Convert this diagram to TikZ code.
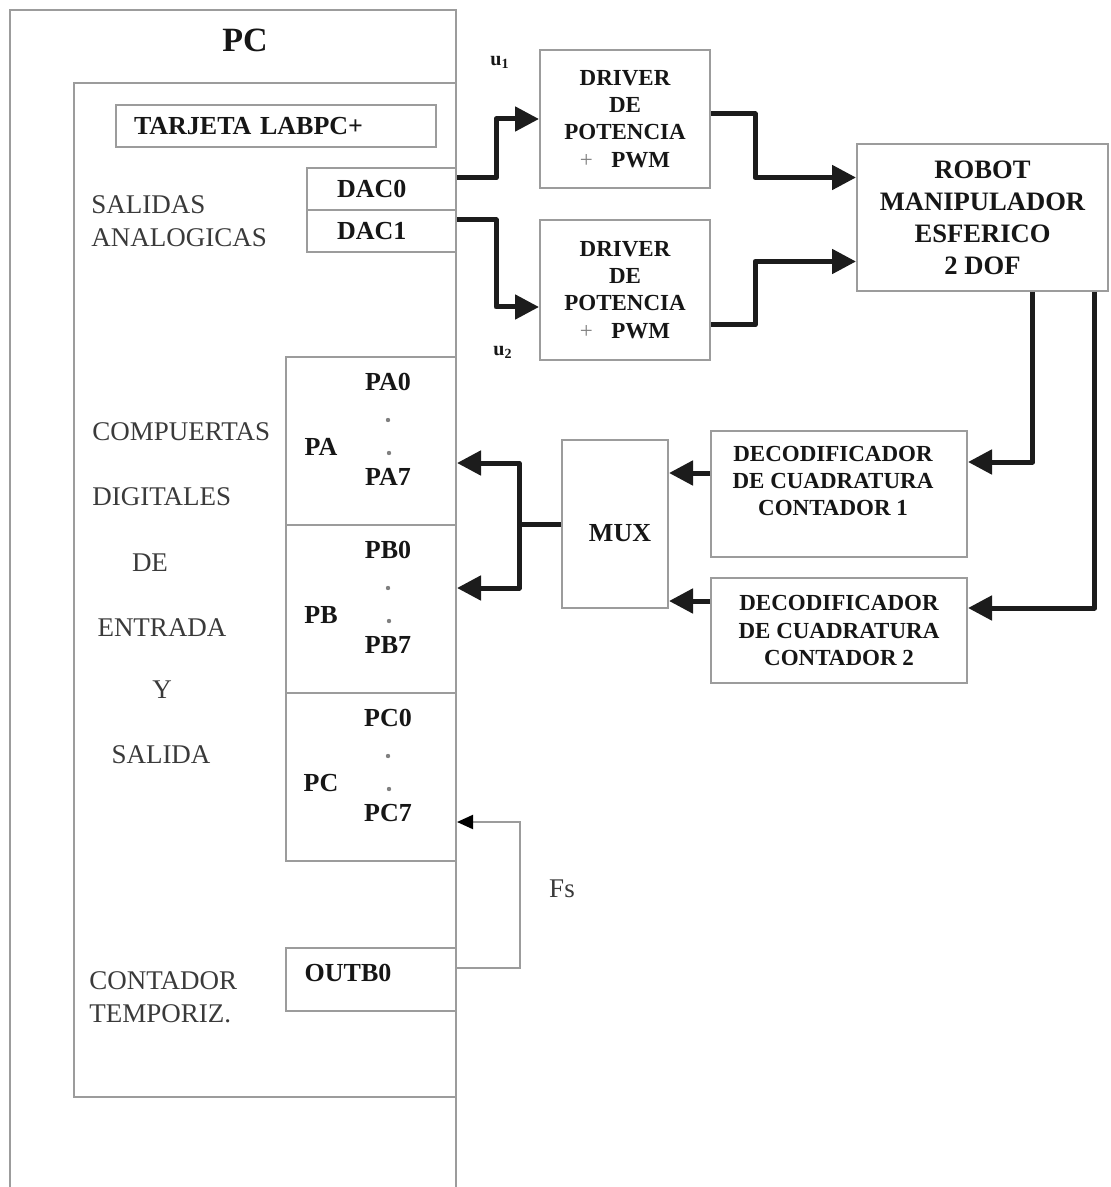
\documentclass[tikz,border=0pt]{standalone}
\usepackage{fontspec}
\setmainfont{Liberation Serif}
\usepackage{tikz}
\usetikzlibrary{arrows.meta,positioning,calc}
\definecolor{framegray}{HTML}{9C9C9C}
\definecolor{inkgray}{HTML}{3A3A3A}
\definecolor{inkdark}{HTML}{161616}
\definecolor{busblack}{HTML}{1C1C1C}
\tikzset{
  box/.style={draw=framegray, line width=1pt, inner sep=0pt, align=center},
  frame/.style={draw=framegray, line width=1pt},
  bus/.style={draw=busblack, line width=2.5pt, line join=round, -{Triangle[length=12pt,width=12pt]}},
  busline/.style={draw=busblack, line width=2.5pt, line join=round},
  fsline/.style={draw=framegray, line width=1pt, -{Triangle[length=8pt,width=7pt,color=black]}},
  lbl/.style={font=\fontsize{13.5}{16.5}\selectfont, text=inkgray, inner sep=0pt, align=left},
  tag/.style={font=\fontsize{13}{16}\selectfont\bfseries, text=inkdark, inner sep=0pt, align=center},
  drvtxt/.style={font=\fontsize{11.5}{13.6}\selectfont\bfseries, text=inkdark, inner sep=0pt, align=center},
  portdot/.style={circle, fill=gray, inner sep=0pt, minimum size=2.2pt},
}

\begin{document}
\begin{tikzpicture}[x=0.5pt,y=-0.5pt]
\useasboundingbox (0,0) rectangle (1110,1187);
% PC and card frames
\draw[frame] (10,1187) -- (10,10) -- (456,10) -- (456,1187);
\draw[frame] (456,83) -- (74,83) -- (74,1097) -- (456,1097);
\node[tag, font=\fontsize{17}{20}\selectfont\bfseries] (pctitle) at (245,40) {PC};
\node[box, tag, minimum width=160pt, minimum height=21pt, text width=142pt, inner xsep=9pt, align=left] (card) at (276,126) {TARJETA LABPC+};

% analog outputs
\node[box, tag, minimum width=74.5pt, minimum height=21pt, text width=44.5pt, inner xsep=15pt, align=left] (dac0) at (381.5,189) {DAC0};
\node[box, tag, minimum width=74.5pt, minimum height=21pt, text width=44.5pt, inner xsep=15pt, align=left] (dac1) at (381.5,231) {DAC1};
\node[lbl, anchor=west] (analog) at (91,221.5) {SALIDAS\\ANALOGICAS};

% digital ports
\foreach \p/\c in {A/441,B/609,C/777}{
  \node[box, minimum width=85pt, minimum height=84pt] (p\p) at (371,\c) {};
  \node[tag] (p\p-name) at (321,{\c+6}) {P\p};
  \node[tag] (p\p-lo) at (388,{\c-59}) {P\p0};
  \node[portdot] (p\p-d1) at (388,{\c-21}) {};
  \node[portdot] (p\p-d2) at (389,{\c+12}) {};
  \node[tag] (p\p-hi) at (388,{\c+36}) {P\p7};
}
\node[lbl, anchor=west] (gates) at (92,432) {COMPUERTAS};
\node[lbl, anchor=west] (digit) at (92,497) {DIGITALES};
\node[lbl] (gde) at (150,563) {DE};
\node[lbl] (gin) at (162,628) {ENTRADA};
\node[lbl] (gy) at (162,690) {Y};
\node[lbl] (gout) at (161,755) {SALIDA};

% timer
\node[box, minimum width=85pt, minimum height=31.5pt] (outb) at (371,979.5) {};
\node[tag] (outb-t) at (348,973) {OUTB0};
\node[lbl, anchor=west] (timer) at (89,997.5) {CONTADOR\\TEMPORIZ.};

% drivers and robot
\node[box, drvtxt, minimum width=85pt, minimum height=69pt] (drv1) at (625,119) {DRIVER\\DE\\POTENCIA\\{\mdseries\color{gray}+}\hspace{0.8em}PWM};
\node[box, drvtxt, minimum width=85pt, minimum height=70pt] (drv2) at (625,290) {DRIVER\\DE\\POTENCIA\\{\mdseries\color{gray}+}\hspace{0.8em}PWM};
\node[box, tag, font=\fontsize{13.3}{16}\selectfont\bfseries, minimum width=125.5pt, minimum height=73.5pt] (robot) at (982.5,217.5) {ROBOT\\MANIPULADOR\\ESFERICO\\2 DOF};
\node[tag, font=\fontsize{10}{12}\selectfont\bfseries] (u1) at (500,62) {u\textsubscript{1}};
\node[tag, font=\fontsize{10}{12}\selectfont\bfseries] (u2) at (503,352) {u\textsubscript{2}};

% decoders and mux
\node[box, minimum width=128pt, minimum height=63pt] (dec1) at (839,494) {};
\node[drvtxt] (dec1-t) at (833,481) {DECODIFICADOR\\DE CUADRATURA\\CONTADOR 1};
\node[box, drvtxt, minimum width=128pt, minimum height=52.5pt] (dec2) at (839,630.5) {DECODIFICADOR\\DE CUADRATURA\\CONTADOR 2};
\node[box, minimum width=53pt, minimum height=84pt] (mux) at (615,524) {};
\node[tag] (mux-t) at (620,533) {MUX};
\node[lbl] (fs) at (562,889) {Fs};

% connectors
\draw[bus] ($(dac0.east)+(0,-11)$) -- ++(39,0) |- (drv1.west);
\draw[bus] ($(dac1.east)+(0,-11)$) -- ++(39,0) |- ($(drv2.west)+(0,17)$);
\draw[bus] ($(drv1.east)+(0,-5)$) -- ++(44,0) |- ($(robot.west)+(0,-40)$);
\draw[bus] ($(drv2.east)+(0,35)$) -- ++(44,0) |- ($(robot.west)+(0,44)$);
\draw[bus] ($(robot.south)+(50,0)$) |- ($(dec1.east)+(0,-32)$);
\draw[bus] ($(robot.south)+(112,0)$) |- ($(dec2.east)+(0,-22.5)$);
\draw[bus] ($(dec1.west)+(0,-21)$) -- ($(mux.east)+(0,-51)$);
\draw[bus] ($(dec2.west)+(0,-29.5)$) -- ($(mux.east)+(0,77)$);
\coordinate (split) at ($(mux.west)+(-42,0)$);
\draw[busline] (mux.west) -- (split);
\draw[bus] (split) |- ($(pA.east)+(0,22)$);
\draw[bus] (split) |- ($(pB.east)+(0,-21)$);
\draw[fsline] ($(outb.east)+(0,-11.5)$) -- ++(63,0) |- ($(pC.east)+(0,45)$);
\end{tikzpicture}
\end{document}
